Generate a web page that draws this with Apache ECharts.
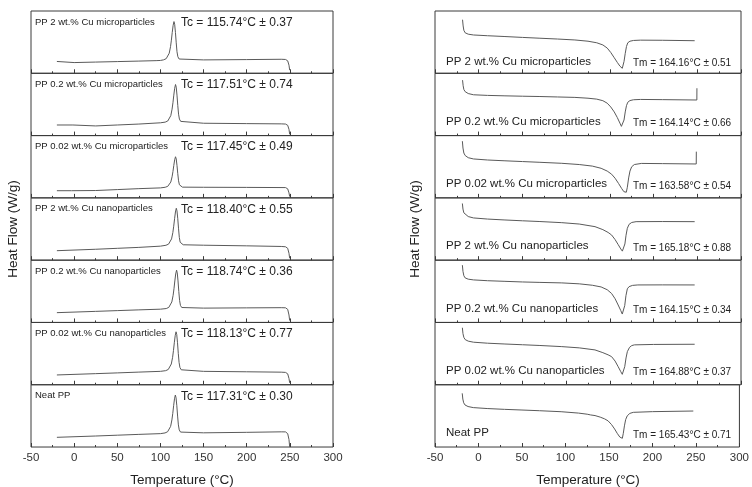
<!DOCTYPE html>
<html>
<head>
<meta charset="utf-8">
<script src="https://cdn.jsdelivr.net/npm/echarts@6/dist/echarts.min.js"></script>
<style>html,body{margin:0;padding:0;background:#fff}#c{width:752px;height:487px}</style>
</head>
<body>
<div id="c"></div>
<script>
// ---------- tick labels / text ----------
const xTicks = [-50, 0, 50, 100, 150, 200, 250, 300];
const sampleNames = ['PP 2 wt.% Cu microparticles', 'PP 0.2 wt.% Cu microparticles', 'PP 0.02 wt.% Cu microparticles',
  'PP 2 wt.% Cu nanoparticles', 'PP 0.2 wt.% Cu nanoparticles', 'PP 0.02 wt.% Cu nanoparticles', 'Neat PP'];
const tcLabels = ['Tc = 115.74°C ± 0.37', 'Tc = 117.51°C ± 0.74', 'Tc = 117.45°C ± 0.49', 'Tc = 118.40°C ± 0.55',
  'Tc = 118.74°C ± 0.36', 'Tc = 118.13°C ± 0.77', 'Tc = 117.31°C ± 0.30'];
const tmLabels = ['Tm = 164.16°C ± 0.51', 'Tm = 164.14°C ± 0.66', 'Tm = 163.58°C ± 0.54', 'Tm = 165.18°C ± 0.88',
  'Tm = 164.15°C ± 0.34', 'Tm = 164.88°C ± 0.37', 'Tm = 165.43°C ± 0.71'];

// ---------- cooling curves (normalised heat flow within each sub-panel) ----------
const cool_PP2micro = [[-20,0.19],[-19.5,0.165],[0,0.172],[25,0.18],[50,0.188],[75,0.196],[95,0.203],[100,0.206],
  [103.7,0.216],[106.7,0.235],[108.7,0.266],[110.2,0.322],[111.7,0.427],[112.7,0.532],[113.7,0.656],[114.7,0.768],[115.7,0.83],
  [116.5,0.787],[117.4,0.656],[118.3,0.489],[119.2,0.346],[120.2,0.266],[121.7,0.229],[123.7,0.216],
  [150,0.215],[200,0.22],[240,0.225],[245,0.222],[247.5,0.2],[249,0.13],[249.8,0.05]];
const cool_PP02micro = [[-20,0.17],[-1.5,0.17],[-1,0.14],[25,0.155],[50,0.17],[75,0.185],[100,0.205],
  [105.5,0.216],[108.5,0.234],[110.5,0.265],[112,0.32],[113.5,0.424],[114.5,0.527],[115.5,0.649],[116.5,0.759],[117.5,0.82],
  [118.3,0.777],[119.2,0.649],[120.1,0.485],[121,0.344],[122,0.265],[123.5,0.228],[125.5,0.206],
  [150,0.198],[200,0.192],[240,0.188],[245,0.185],[247.5,0.165],[249,0.1],[249.8,0.02]];
const cool_PP002micro = [[-20,0.115],[-3,0.115],[-2.5,0.1],[25,0.118],[50,0.133],[75,0.148],[100,0.16],
  [105.5,0.17],[108.5,0.185],[110.5,0.21],[112,0.254],[113.5,0.338],[114.5,0.422],[115.5,0.521],[116.5,0.611],[117.5,0.66],
  [118.3,0.625],[119.2,0.521],[120.1,0.388],[121,0.274],[122,0.21],[123.5,0.18],[125.5,0.172],
  [150,0.17],[200,0.168],[245,0.165],[247.5,0.145],[249,0.08],[249.8,0.02]];
const cool_PP2nano = [[-20,0.152],[25,0.175],[50,0.19],[75,0.205],[100,0.225],
  [106.4,0.239],[109.4,0.257],[111.4,0.287],[112.9,0.341],[114.4,0.443],[115.4,0.545],[116.4,0.665],[117.4,0.773],[118.4,0.833],
  [119.2,0.791],[120.1,0.665],[121,0.503],[121.9,0.365],[122.9,0.287],[124.4,0.26],[126.4,0.247],
  [150,0.24],[200,0.23],[240,0.22],[245,0.215],[247.5,0.19],[249,0.11],[249.8,0.03]];
const cool_PP02nano = [[-20,0.157],[25,0.178],[50,0.19],[75,0.202],[100,0.213],
  [106.7,0.223],[109.7,0.242],[111.7,0.273],[113.2,0.329],[114.7,0.435],[115.7,0.541],[116.7,0.666],[117.7,0.778],[118.7,0.84],
  [119.5,0.796],[120.4,0.666],[121.3,0.497],[122.2,0.354],[123.2,0.273],[124.7,0.24],[126.7,0.23],
  [150,0.23],[200,0.234],[240,0.237],[245,0.235],[247.5,0.21],[249,0.12],[249.8,0.03]];
const cool_PP002nano = [[-20,0.157],[25,0.178],[50,0.19],[75,0.203],[100,0.215],
  [106.1,0.226],[109.1,0.245],[111.1,0.277],[112.6,0.333],[114.1,0.44],[115.1,0.548],[116.1,0.674],[117.1,0.787],[118.1,0.85],
  [118.9,0.806],[119.8,0.674],[120.7,0.504],[121.6,0.359],[122.6,0.277],[124.1,0.24],[126.1,0.226],
  [150,0.215],[200,0.208],[240,0.202],[245,0.198],[247.5,0.175],[249,0.1],[249.8,0.03]];
const cool_Neat = [[-20,0.156],[25,0.177],[50,0.19],[75,0.203],[100,0.215],
  [105.3,0.226],[108.3,0.245],[110.3,0.275],[111.8,0.331],[113.3,0.435],[114.3,0.54],[115.3,0.663],[116.3,0.774],[117.3,0.835],
  [118.1,0.792],[119,0.663],[119.9,0.497],[120.8,0.355],[121.8,0.275],[123.3,0.24],[125.3,0.226],
  [150,0.228],[200,0.236],[240,0.244],[245,0.243],[247.5,0.215],[249,0.12],[249.8,0.0]];

// ---------- heating curves ----------
const heat_PP2micro = [[-18.5,0.86],[-17.8,0.76],[-17,0.69],[-15.5,0.65],[-12,0.628],[-6,0.615],[10,0.603],[30,0.59],[50,0.576],
  [70,0.563],[90,0.55],[110,0.535],[125,0.515],[135,0.49],[142,0.455],[147,0.405],[151,0.335],[155,0.25],[158.5,0.175],
  [161.5,0.115],[163.3,0.088],[164.2,0.08],[165,0.1],[166.2,0.19],[167.6,0.32],[169,0.43],[170.5,0.49],[173,0.515],
  [177,0.527],[185,0.532],[210,0.53],[247,0.523]];
const heat_PP02micro = [[-18.5,0.89],[-17.8,0.8],[-17,0.74],[-15.5,0.705],[-12,0.675],[-6,0.655],[10,0.645],[30,0.638],
  [50,0.632],[70,0.627],[90,0.62],[110,0.613],[125,0.6],[135,0.585],[142,0.56],[147,0.52],[151,0.46],[155,0.38],[158.5,0.29],
  [161.5,0.2],[163.2,0.148],[164.1,0.133],[165,0.155],[166.2,0.25],[167.6,0.38],[169,0.48],[170.5,0.535],[173,0.562],
  [177,0.575],[185,0.58],[210,0.577],[249.5,0.571],[249.6,0.76]];
const heat_PP002micro = [[-18.7,0.91],[-18,0.8],[-17,0.72],[-15.5,0.68],[-12,0.645],[-6,0.625],[10,0.608],[30,0.595],
  [50,0.583],[70,0.571],[95,0.555],[115,0.535],[130,0.51],[140,0.475],[147,0.43],[152,0.38],[156,0.315],[160,0.23],
  [163.5,0.15],[166,0.1],[167.3,0.08],[168,0.074],[168.8,0.09],[170,0.17],[171.5,0.32],[173,0.43],[175,0.5],[178,0.535],
  [186,0.553],[210,0.55],[248.8,0.544],[248.9,0.742]];
const heat_PP2nano = [[-18.7,0.91],[-18,0.82],[-17,0.76],[-15.5,0.73],[-12,0.7],[-6,0.678],[10,0.66],[30,0.645],[50,0.632],
  [70,0.62],[95,0.602],[115,0.58],[133,0.538],[142,0.49],[148,0.445],[152,0.404],[156,0.33],[159.5,0.25],[162.5,0.18],
  [164.3,0.145],[165.2,0.136],[166,0.16],[167.2,0.26],[168.5,0.4],[170,0.512],[172,0.575],[175,0.605],[180,0.618],
  [210,0.62],[247,0.618]];
const heat_PP02nano = [[-18.7,0.92],[-18,0.82],[-17,0.75],[-15.5,0.715],[-12,0.695],[-6,0.683],[10,0.67],[30,0.66],[50,0.65],
  [70,0.643],[95,0.635],[115,0.62],[130,0.597],[140,0.57],[147,0.525],[152,0.465],[156,0.38],[159.5,0.28],[162.5,0.19],
  [164.2,0.135],[165,0.12],[165.8,0.15],[167,0.27],[168.4,0.43],[170,0.54],[172,0.575],[176,0.595],[182,0.602],
  [210,0.603],[247,0.602]];
const heat_PP002nano = [[-18.7,0.915],[-18,0.82],[-17,0.76],[-15.5,0.725],[-12,0.7],[-6,0.683],[10,0.667],[30,0.654],
  [50,0.642],[70,0.63],[95,0.612],[115,0.592],[133,0.559],[142,0.515],[148,0.48],[152,0.451],[156,0.38],[159.5,0.29],
  [162.5,0.21],[164.2,0.167],[165,0.157],[165.8,0.18],[167,0.29],[168.5,0.43],[170,0.531],[172.5,0.6],[175,0.628],
  [178,0.64],[200,0.647],[247,0.65]];
const heat_Neat = [[-18.7,0.862],[-18,0.77],[-17,0.71],[-15.5,0.675],[-12,0.65],[-6,0.633],[10,0.618],[30,0.605],[50,0.594],
  [70,0.583],[95,0.567],[115,0.545],[125,0.527],[129,0.515],[131,0.52],[134,0.505],[140,0.48],[145,0.452],[149,0.42],
  [153,0.36],[156.5,0.29],[159.5,0.22],[162.5,0.16],[164.5,0.128],[165.4,0.14],[166.5,0.22],[167.8,0.34],[169.2,0.44],
  [171,0.5],[174,0.54],[178,0.557],[200,0.568],[247,0.578]];

const coolCurves = [cool_PP2micro, cool_PP02micro, cool_PP002micro, cool_PP2nano, cool_PP02nano, cool_PP002nano, cool_Neat];
const heatCurves = [heat_PP2micro, heat_PP02micro, heat_PP002micro, heat_PP2nano, heat_PP02nano, heat_PP002nano, heat_Neat];

// ---------- layout ----------
const TOP = 11, H = 62.29, N = 7;
const panels = [{left: 31, width: 302, curves: coolCurves}, {left: 435, width: 306, curves: heatCurves}];
const FONT = '"Liberation Sans", Arial, sans-serif';
const frameColor = '#3a3a3a', lineColor = '#5a5a5a', textColor = '#222';

const grid = [], xAxis = [], yAxis = [], series = [], graphic = [];
let gi = 0;
panels.forEach((p, pi) => {
  for (let i = 0; i < N; i++) {
    const top = TOP + i * H;
    const bottom = i === N - 1;
    grid.push({left: p.left, width: p.width, top: top, height: H, show: true, borderColor: frameColor, borderWidth: 1, containLabel: false});
    xAxis.push({
      gridIndex: gi, type: 'value', min: xTicks[0], max: xTicks[xTicks.length - 1], interval: 50,
      axisLine: {show: false},
      axisTick: {show: true, inside: true, length: 4, lineStyle: {color: frameColor, width: 1}},
      minorTick: {show: true, splitNumber: 2, length: 2, lineStyle: {color: frameColor, width: 1}},
      splitLine: {show: false},
      axisLabel: {show: bottom, margin: 5, color: '#333', fontSize: 11.5, fontFamily: FONT}
    });
    yAxis.push({gridIndex: gi, type: 'value', min: 0, max: 1, show: false});
    series.push({
      type: 'line', xAxisIndex: gi, yAxisIndex: gi, data: p.curves[i], showSymbol: false, symbol: 'none',
      lineStyle: {color: lineColor, width: 1}, silent: true, animation: false
    });
    if (pi === 0) {
      graphic.push({type: 'text', x: 35, y: top + 11, style: {text: sampleNames[i], font: '9.5px ' + FONT, fill: textColor, verticalAlign: 'middle'}});
      graphic.push({type: 'text', x: 181, y: top + 11.5, style: {text: tcLabels[i], font: '12px ' + FONT, fill: textColor, verticalAlign: 'middle'}});
    } else {
      const off = i === 0 ? 11 : 14;
      graphic.push({type: 'text', x: 446, y: top + H - off, style: {text: sampleNames[i], font: '11.5px ' + FONT, fill: textColor, verticalAlign: 'middle'}});
      graphic.push({type: 'text', x: 633, y: top + H - (i === 0 ? 10.5 : 12), style: {text: tmLabels[i], font: '10px ' + FONT, fill: textColor, verticalAlign: 'middle'}});
    }
    gi++;
  }
});

const midY = TOP + N * H / 2;
graphic.push({type: 'text', x: 13, y: midY, rotation: Math.PI / 2, style: {text: 'Heat Flow (W/g)', font: '13.5px ' + FONT, fill: textColor, align: 'center', verticalAlign: 'middle'}});
graphic.push({type: 'text', x: 415, y: midY, rotation: Math.PI / 2, style: {text: 'Heat Flow (W/g)', font: '13.5px ' + FONT, fill: textColor, align: 'center', verticalAlign: 'middle'}});
graphic.push({type: 'text', x: 31 + 302 / 2, y: 480, style: {text: 'Temperature (°C)', font: '13.5px ' + FONT, fill: textColor, align: 'center', verticalAlign: 'middle'}});
graphic.push({type: 'text', x: 435 + 306 / 2, y: 480, style: {text: 'Temperature (°C)', font: '13.5px ' + FONT, fill: textColor, align: 'center', verticalAlign: 'middle'}});

const chart = echarts.init(document.getElementById('c'), null, {renderer: 'canvas'});
chart.setOption({animation: false, backgroundColor: '#fff', grid, xAxis, yAxis, series, graphic});
</script>
</body>
</html>
